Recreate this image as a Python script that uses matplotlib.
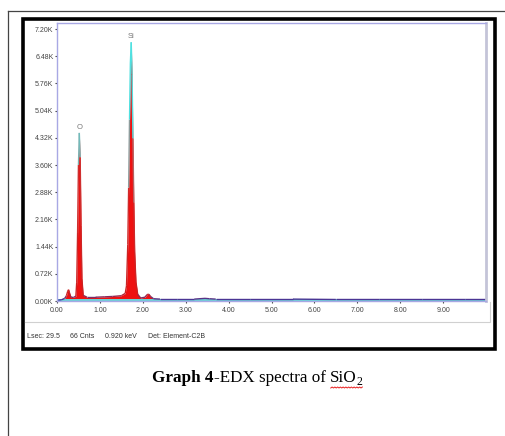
import numpy as np
import matplotlib
matplotlib.use("Agg")
import matplotlib.pyplot as plt
from matplotlib.lines import Line2D
from matplotlib.patches import Rectangle
from matplotlib.collections import LineCollection
from matplotlib.colors import LinearSegmentedColormap, Normalize

# EDX spectrum (energy in keV, counts in thousands)
energy_kev = [0.00, 0.10, 0.18, 0.22, 0.25, 0.27, 0.29, 0.32, 0.38, 0.44, 0.46, 0.48,
              0.50, 0.52, 0.54, 0.56, 0.58, 0.61, 0.70, 0.90, 1.10, 1.30, 1.50, 1.59,
              1.62, 1.65, 1.67, 1.69, 1.71, 1.73, 1.75, 1.77, 1.79, 1.81, 1.84, 1.88,
              1.95, 2.05, 2.10, 2.14, 2.18, 2.25, 2.40, 2.80, 3.20, 3.45, 3.55, 3.70,
              4.50, 5.50, 6.50, 7.50, 8.50, 9.50, 10.00]
counts_k = [0.02, 0.03, 0.07, 0.14, 0.26, 0.30, 0.22, 0.11, 0.09, 0.13, 0.50, 1.80,
            3.60, 4.45, 3.80, 2.00, 0.60, 0.15, 0.10, 0.10, 0.11, 0.12, 0.14, 0.20,
            0.40, 1.50, 3.00, 4.80, 6.30, 6.85, 6.00, 4.30, 2.60, 1.30, 0.50, 0.18,
            0.08, 0.10, 0.17, 0.18, 0.12, 0.06, 0.05, 0.05, 0.05, 0.07, 0.06, 0.05,
            0.05, 0.05, 0.04, 0.04, 0.04, 0.04, 0.04]
continuum_k = [0.03, 0.03]
continuum_kev = [0.00, 10.00]

peak_names = ["O", "Si"]
peak_kev = [0.52, 1.73]
peak_k = [4.45, 6.85]

y_ticks = [0.00, 0.72, 1.44, 2.16, 2.88, 3.60, 4.32, 5.04, 5.76, 6.48, 7.20]
x_ticks = [0, 1, 2, 3, 4, 5, 6, 7, 8, 9]
status_items = ["Lsec: 29.5", "66 Cnts", "0.920 keV", "Det: Element-C2B"]

W, H = 505, 436
fig = plt.figure(figsize=(W / 100, H / 100), dpi=100)
fig.patch.set_facecolor("white")


def fx(px):
    return px / W


def fy(py):
    return 1 - py / H


# page frame (thin) and the black box around the screenshot
fig.add_artist(Line2D([fx(8), fx(505)], [fy(11), fy(11)], color="#444444", lw=0.9))
fig.add_artist(Line2D([fx(8), fx(8)], [fy(11), fy(436)], color="#444444", lw=0.9))
fig.add_artist(Rectangle((fx(23), fy(349)), fx(495) - fx(23), fy(19) - fy(349),
                         fill=False, ec="black", lw=2.6))
# status bar separator
fig.add_artist(Line2D([fx(25), fx(490), fx(490)], [fy(322), fy(322), fy(302)],
                      color="#d0d0d0", lw=0.8))

ax = fig.add_axes([fx(57), fy(301), fx(486) - fx(57), fy(23) - fy(301)])
ax.set_xlim(0, 10)
ax.set_ylim(0, 7.36)

# red filled spectrum
ax.fill_between(energy_kev, counts_k, 0, color="#ee1111", lw=0)
ax.plot(continuum_kev, continuum_k, color="#66d8dc", lw=1.4)

# outline coloured by height: blue at base, red, cyan at the top
cmap = LinearSegmentedColormap.from_list(
    "edx", [(0.0, "#2a3ab0"), (0.04, "#cc2020"), (0.70, "#d03030"),
            (0.85, "#a08888"), (1.0, "#50e0e0")])
pts = np.column_stack([energy_kev, counts_k]).reshape(-1, 1, 2)
segs = np.concatenate([pts[:-1], pts[1:]], axis=1)
mid = (np.array(counts_k[:-1]) + np.array(counts_k[1:])) / 2
lc = LineCollection(segs, cmap=cmap, norm=Normalize(0, 4.4), lw=1.0)
lc.set_array(mid)
ax.add_collection(lc)

for name, xk, yk in zip(peak_names, peak_kev, peak_k):
    ax.text(xk, yk + 0.06, name, ha="center", va="bottom", fontsize=5.5,
            color="#777777", family="Liberation Sans")

ax.set_yticks(y_ticks)
ax.set_yticklabels(["%.2fK" % v for v in y_ticks])
ax.set_xticks(x_ticks)
ax.set_xticklabels(["%.2f" % v for v in x_ticks])
ax.tick_params(labelsize=5, colors="#444444", length=1.5, pad=1,
               labelfontfamily="Liberation Sans")
ax.tick_params(axis="x", pad=3)

for side in ["top", "left", "bottom"]:
    ax.spines[side].set_color("#a8a8e4")
    ax.spines[side].set_linewidth(1.0)
ax.spines["right"].set_color("#c4c4d8")
ax.spines["right"].set_linewidth(2.0)

# status bar text
for label, px in zip(status_items, [27, 70, 105, 148]):
    fig.text(fx(px), fy(337), label, fontsize=5, color="#333333",
             family="Liberation Sans", va="center", ha="left")

# caption
renderer = fig.canvas.get_renderer()
t1 = fig.text(fx(152), fy(378), "Graph 4", fontsize=12.3, fontweight="bold",
              family="Liberation Serif", va="center", ha="left")
bb = t1.get_window_extent(renderer)
t2 = fig.text(bb.x1 / W, fy(378), "-EDX spectra of ", fontsize=12.3,
              family="Liberation Serif", va="center", ha="left")
bb2 = t2.get_window_extent(renderer)
t3 = fig.text(bb2.x1 / W, fy(378), "SiO", fontsize=12.3,
              family="Liberation Serif", va="center", ha="left")
bb3 = t3.get_window_extent(renderer)
t4 = fig.text(bb3.x1 / W, fy(382), "2", fontsize=8.5,
              family="Liberation Serif", va="center", ha="left")
bb4 = t4.get_window_extent(renderer)

# spell-check squiggle under SiO2
wx = np.linspace(bb2.x1 + 1, bb4.x1, 24)
wy = (H - 388) + 1.0 * (np.arange(24) % 2)
fig.add_artist(Line2D(wx / W, wy / H, color="#e82020", lw=0.7))

fig.savefig("out.png", dpi=100)
